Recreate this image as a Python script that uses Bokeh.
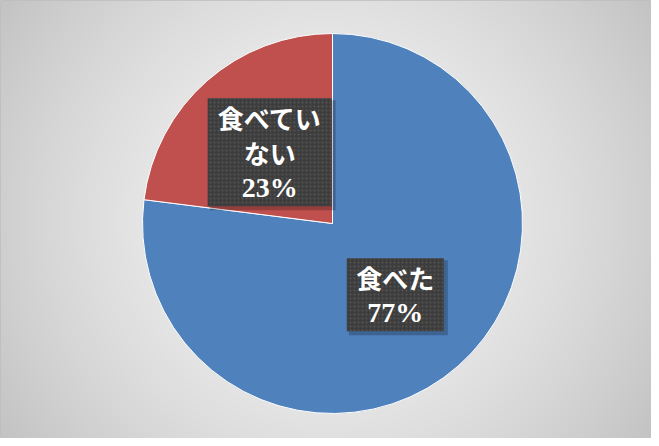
import numpy as np
from bokeh.plotting import figure
from bokeh.models import Range1d, ColumnDataSource
from bokeh.core.properties import value
from bokeh.embed import file_html
from bokeh.resources import INLINE

# ---- data ----
categories = ["食べた", "食べていない"]
label_lines = [["食べた"], ["食べてい", "ない"]]
values = [77, 23]
colors = ["#4F81BD", "#C0504D"]

W, H = 651, 438
p = figure(width=W, height=H, output_backend="svg", toolbar_location=None,
           x_range=Range1d(0, W), y_range=Range1d(0, H),
           x_axis_location=None, y_axis_location=None, min_border=0,
           background_fill_color="white", border_fill_color="white")
p.grid.visible = False
p.outline_line_color = "#bdbdbd"
p.outline_line_width = 1

# background radial gradient (styling)
yy, xx = np.mgrid[0:H, 0:W]
cx, cy = W / 2, H / 2
d = np.sqrt((xx - cx) ** 2 + (yy - cy) ** 2) / np.sqrt(cx ** 2 + cy ** 2)
g = np.clip(245 - 50 * d ** 1.5, 0, 255).astype(np.uint32)
img = (255 << 24) | (g << 16) | (g << 8) | g
p.image_rgba(image=[img.astype(np.uint32)], x=0, y=0, dw=W, dh=H)

# pie
pcx, pcy, R = 332, 215, 190
total = float(sum(values))
fr = np.array(values) / total
ends = np.cumsum(fr)
starts = ends - fr
start_ang = np.pi / 2 - starts * 2 * np.pi
end_ang = np.pi / 2 - ends * 2 * np.pi
src = ColumnDataSource(dict(start=start_ang, end=end_ang, color=colors, cat=categories))
p.wedge(x=pcx, y=pcy, radius=R, start_angle="start", end_angle="end",
        direction="clock", fill_color="color", line_color="white", line_width=1, source=src)

# labels
mid = (start_ang + end_ang) / 2
lx = pcx + 0.5 * R * np.cos(mid)
ly = pcy + 0.5 * R * np.sin(mid)
line_h = 35
for i in range(len(values)):
    lines = label_lines[i] + [f"{values[i]}%"]
    n = len(lines)
    bw = 124 if max(len(s) for s in lines) > 3 else 97
    bh = n * line_h + 3
    p.rect(x=lx[i] + 3, y=ly[i] - 3, width=bw + 2, height=bh + 2,
           fill_color="black", fill_alpha=0.22, line_color=None)
    p.rect(x=lx[i], y=ly[i], width=bw, height=bh, fill_color="#3d3d3d",
           line_color=None, hatch_pattern="dot", hatch_color="#555555",
           hatch_scale=4, hatch_weight=1.5)
    top = ly[i] + (n - 1) * line_h / 2
    for j, s in enumerate(lines):
        is_num = j == n - 1
        p.text(x=[lx[i]], y=[top - j * line_h], text=[s],
               text_font=value("Liberation Serif" if is_num else "Noto Sans CJK JP"),
               text_font_style="bold", text_font_size="28px" if is_num else "26px",
               text_color="white", text_align="center", text_baseline="middle")

open("out.html", "w").write(file_html(p, INLINE))
